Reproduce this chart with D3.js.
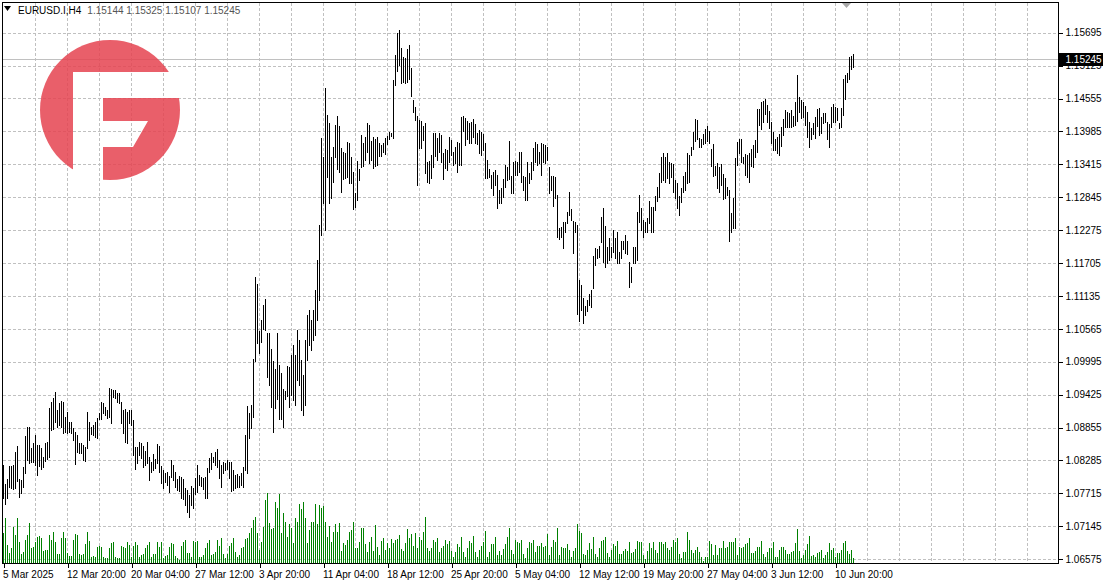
<!DOCTYPE html>
<html><head><meta charset="utf-8">
<script src="https://cdn.jsdelivr.net/npm/d3@7"></script>
<style>
body{margin:0;background:#fff;}
svg{display:block;font-family:"Liberation Sans",Arial,sans-serif;}
</style>
</head><body>
<svg id="chart" width="1106" height="588"></svg>
<script>
const symbol = "EURUSD.I,H4";
const lastOHLC = [1.15144, 1.15325, 1.15107, 1.15245];
const lastPrice = 1.15245;

const highs = [
1.0821,1.0788,1.0796,1.0819,1.0819,1.0821,1.0843,1.0853,1.0796,1.0795,
1.0817,1.0871,1.0886,1.0886,1.0850,1.0859,1.0873,1.0855,1.0855,1.0850,
1.0834,1.0859,1.0860,1.0919,1.0930,1.0937,1.0947,1.0916,1.0928,1.0932,
1.0930,1.0904,1.0912,1.0895,1.0895,1.0885,1.0878,1.0873,1.0859,1.0859,
1.0855,1.0852,1.0912,1.0895,1.0886,1.0890,1.0895,1.0902,1.0911,1.0930,
1.0928,1.0921,1.0916,1.0954,1.0952,1.0950,1.0950,1.0945,1.0945,1.0930,
1.0916,1.0918,1.0912,1.0916,1.0916,1.0899,1.0852,1.0852,1.0860,1.0859,
1.0853,1.0845,1.0860,1.0834,1.0826,1.0840,1.0831,1.0857,1.0853,1.0819,
1.0812,1.0807,1.0808,1.0801,1.0829,1.0821,1.0808,1.0796,1.0801,1.0800,
1.0796,1.0781,1.0777,1.0769,1.0784,1.0781,1.0798,1.0821,1.0803,1.0800,
1.0798,1.0800,1.0815,1.0833,1.0841,1.0834,1.0843,1.0848,1.0829,1.0821,
1.0826,1.0824,1.0829,1.0826,1.0826,1.0812,1.0803,1.0805,1.0801,1.0807,
1.0817,1.0873,1.0923,1.0911,1.0925,1.1004,1.1146,1.1134,1.1053,1.1072,
1.1098,1.1108,1.1049,1.1049,1.1021,1.1001,1.0987,1.1049,1.0994,1.0980,
1.0952,1.0949,1.0992,1.0990,1.1011,1.1028,1.1011,1.1054,1.1037,1.1002,
1.0977,1.1037,1.1080,1.1089,1.1072,1.1089,1.1124,1.1176,1.1236,1.1387,
1.1354,1.1474,1.1427,1.1413,1.1354,1.1372,1.1410,1.1425,1.1408,1.1370,
1.1363,1.1361,1.1380,1.1378,1.1354,1.1328,1.1292,1.1347,1.1333,1.1392,
1.1378,1.1388,1.1413,1.1410,1.1382,1.1388,1.1385,1.1388,1.1378,1.1375,
1.1378,1.1387,1.1390,1.1397,1.1396,1.1488,1.1530,1.1569,1.1574,1.1543,
1.1527,1.1525,1.1541,1.1548,1.1508,1.1453,1.1441,1.1425,1.1418,1.1416,
1.1408,1.1413,1.1345,1.1347,1.1358,1.1396,1.1396,1.1387,1.1396,1.1392,
1.1361,1.1368,1.1366,1.1388,1.1384,1.1363,1.1372,1.1380,1.1378,1.1423,
1.1425,1.1421,1.1417,1.1413,1.1415,1.1420,1.1411,1.1396,1.1401,1.1397,
1.1394,1.1378,1.1349,1.1333,1.1323,1.1328,1.1332,1.1323,1.1297,1.1300,
1.1316,1.1340,1.1337,1.1382,1.1321,1.1345,1.1347,1.1345,1.1363,1.1363,
1.1321,1.1320,1.1345,1.1326,1.1345,1.1370,1.1380,1.1377,1.1363,1.1378,
1.1377,1.1375,1.1372,1.1337,1.1321,1.1321,1.1320,1.1289,1.1231,1.1233,
1.1242,1.1242,1.1259,1.1294,1.1264,1.1243,1.1242,1.1236,1.1141,1.1133,
1.1110,1.1096,1.1106,1.1117,1.1124,1.1183,1.1197,1.1195,1.1200,1.1250,
1.1266,1.1235,1.1198,1.1214,1.1198,1.1228,1.1214,1.1224,1.1190,1.1209,
1.1209,1.1219,1.1209,1.1172,1.1164,1.1198,1.1198,1.1259,1.1289,1.1266,
1.1245,1.1242,1.1248,1.1278,1.1267,1.1267,1.1287,1.1302,1.1326,1.1354,
1.1361,1.1354,1.1361,1.1345,1.1344,1.1342,1.1314,1.1309,1.1287,1.1300,
1.1321,1.1328,1.1361,1.1358,1.1372,1.1397,1.1420,1.1418,1.1387,1.1385,
1.1394,1.1403,1.1408,1.1399,1.1368,1.1377,1.1339,1.1344,1.1337,1.1342,
1.1325,1.1318,1.1302,1.1297,1.1257,1.1283,1.1352,1.1380,1.1385,1.1385,
1.1354,1.1359,1.1358,1.1361,1.1368,1.1375,1.1384,1.1437,1.1437,1.1449,
1.1451,1.1454,1.1444,1.1434,1.1415,1.1397,1.1385,1.1388,1.1394,1.1406,
1.1420,1.1436,1.1432,1.1430,1.1436,1.1425,1.1449,1.1496,1.1458,1.1453,
1.1449,1.1442,1.1432,1.1415,1.1404,1.1413,1.1423,1.1437,1.1439,1.1423,
1.1430,1.1430,1.1415,1.1411,1.1441,1.1446,1.1441,1.1439,1.1413,1.1439,
1.1489,1.1496,1.1500,1.1527,1.1529,1.15325
];

const lows = [
1.0763,1.0753,1.0763,1.0782,1.0781,1.0779,1.0781,1.0793,1.0765,1.0772,
1.0782,1.0807,1.0829,1.0824,1.0826,1.0826,1.0821,1.0803,1.0819,1.0814,
1.0817,1.0828,1.0831,1.0834,1.0881,1.0883,1.0895,1.0886,1.0890,1.0886,
1.0876,1.0878,1.0876,1.0878,1.0876,1.0864,1.0822,1.0843,1.0841,1.0841,
1.0829,1.0828,1.0850,1.0864,1.0874,1.0873,1.0869,1.0867,1.0900,1.0900,
1.0911,1.0907,1.0902,1.0904,1.0893,1.0938,1.0937,1.0930,1.0928,1.0893,
1.0876,1.0860,1.0859,1.0893,1.0890,1.0838,1.0814,1.0824,1.0838,1.0833,
1.0817,1.0821,1.0824,1.0795,1.0808,1.0812,1.0815,1.0824,1.0808,1.0789,
1.0781,1.0791,1.0786,1.0774,1.0800,1.0795,1.0782,1.0777,1.0776,1.0763,
1.0762,1.0751,1.0739,1.0731,1.0751,1.0746,1.0770,1.0774,1.0786,1.0784,
1.0779,1.0763,1.0763,1.0808,1.0814,1.0826,1.0821,1.0817,1.0798,1.0782,
1.0807,1.0812,1.0814,1.0798,1.0776,1.0777,1.0781,1.0782,1.0782,1.0786,
1.0782,1.0812,1.0807,1.0867,1.0885,1.0904,1.1001,1.1032,1.1015,1.1034,
1.1056,1.1054,1.0973,1.0959,1.0921,1.0878,1.0919,1.0935,1.0900,1.0900,
1.0886,1.0935,1.0940,1.0921,1.0942,1.0933,1.0925,1.0968,1.0959,1.0916,
1.0907,1.0925,1.1002,1.1028,1.1020,1.1037,1.1046,1.1072,1.1106,1.1219,
1.1274,1.1228,1.1319,1.1274,1.1283,1.1311,1.1354,1.1333,1.1328,1.1294,
1.1316,1.1318,1.1319,1.1309,1.1309,1.1264,1.1267,1.1280,1.1314,1.1337,
1.1339,1.1349,1.1363,1.1344,1.1349,1.1335,1.1339,1.1340,1.1356,1.1356,
1.1363,1.1359,1.1377,1.1385,1.1390,1.1387,1.1479,1.1503,1.1514,1.1483,
1.1484,1.1483,1.1484,1.1489,1.1460,1.1432,1.1418,1.1306,1.1370,1.1370,
1.1384,1.1326,1.1311,1.1309,1.1318,1.1337,1.1356,1.1349,1.1363,1.1345,
1.1316,1.1335,1.1332,1.1345,1.1358,1.1340,1.1344,1.1328,1.1340,1.1340,
1.1399,1.1375,1.1385,1.1378,1.1378,1.1388,1.1378,1.1377,1.1361,1.1358,
1.1366,1.1318,1.1318,1.1320,1.1300,1.1289,1.1306,1.1266,1.1274,1.1274,
1.1285,1.1302,1.1314,1.1316,1.1292,1.1292,1.1323,1.1323,1.1328,1.1311,
1.1297,1.1280,1.1280,1.1309,1.1316,1.1332,1.1345,1.1340,1.1344,1.1323,
1.1345,1.1344,1.1349,1.1292,1.1297,1.1269,1.1283,1.1216,1.1212,1.1216,
1.1197,1.1225,1.1240,1.1254,1.1245,1.1188,1.1224,1.1082,1.1070,1.1089,
1.1067,1.1080,1.1087,1.1098,1.1094,1.1127,1.1167,1.1179,1.1181,1.1207,
1.1172,1.1164,1.1171,1.1176,1.1181,1.1190,1.1179,1.1171,1.1171,1.1179,
1.1195,1.1188,1.1186,1.1129,1.1138,1.1171,1.1171,1.1176,1.1242,1.1228,
1.1216,1.1224,1.1225,1.1240,1.1224,1.1225,1.1262,1.1278,1.1285,1.1311,
1.1314,1.1311,1.1318,1.1309,1.1320,1.1294,1.1283,1.1266,1.1254,1.1276,
1.1294,1.1297,1.1309,1.1311,1.1358,1.1368,1.1382,1.1385,1.1372,1.1372,
1.1377,1.1378,1.1382,1.1378,1.1339,1.1321,1.1323,1.1300,1.1294,1.1306,
1.1281,1.1283,1.1289,1.1209,1.1224,1.1231,1.1231,1.1340,1.1361,1.1345,
1.1344,1.1323,1.1320,1.1311,1.1339,1.1337,1.1354,1.1363,1.1410,1.1403,
1.1415,1.1428,1.1415,1.1404,1.1378,1.1366,1.1366,1.1361,1.1358,1.1373,
1.1392,1.1406,1.1406,1.1406,1.1406,1.1408,1.1410,1.1417,1.1432,1.1421,
1.1423,1.1410,1.1388,1.1372,1.1385,1.1394,1.1387,1.1408,1.1392,1.1396,
1.1413,1.1415,1.1385,1.1372,1.1406,1.1415,1.1415,1.1418,1.1404,1.1406,
1.1427,1.1454,1.1484,1.1489,1.1507,1.15107
];

const volumes = [
8900,13400,5400,2900,4400,10900,8400,13600,6200,2600,
3200,6900,8400,11900,4600,4900,6400,7900,8200,7400,
3700,3900,3900,8400,6900,9400,6400,2600,2600,7600,
9400,7400,2900,2200,2200,6900,8700,8400,2800,2400,
2600,5600,9200,6600,1900,2200,1900,4900,5200,4800,
1900,1400,1400,4600,5900,6400,1900,1400,1400,5200,
4900,4600,6200,5400,1900,5200,6200,5400,1800,2400,
2600,4400,5400,6200,1900,2600,2600,6400,4900,6200,
1600,2200,2400,4900,5900,5600,2200,1600,900,5200,
6400,6900,2900,2900,1900,6600,6400,6600,1900,1900,
2400,4600,5900,6900,2400,2600,3400,6900,5200,7600,
2600,1400,2600,5200,5900,7600,3200,1900,2400,4600,
4900,7200,7600,8900,10600,12900,13900,8900,3900,6400,
10900,18900,20900,11900,10200,10600,18200,16400,20600,8900,
14900,12200,7900,11600,10600,5900,13600,12400,17600,16200,
18400,13600,5900,9900,12400,12200,17600,11600,17400,16600,
17200,12400,7900,11200,6400,9400,11600,9200,11900,3600,
5900,5400,6900,9400,9900,12400,4600,4400,6400,10600,
10400,5600,3200,6200,7900,3600,11400,4900,2400,6600,
7600,3900,5900,4600,7200,5900,6900,7200,8400,4200,
3600,5900,10200,7600,8600,5200,8900,4400,7900,6900,
9400,13900,4400,3600,4400,6900,6200,7600,3400,4400,
5200,6900,5600,6600,3600,1700,3200,5600,4900,7900,
3200,1900,4400,6600,5900,8200,3200,1900,3900,5200,
6200,9700,1900,3200,5600,5600,7900,2400,3600,2400,
4200,5600,7900,10400,3900,2600,6900,6200,5900,6900,
2600,1600,4400,6200,5900,6900,3400,5200,5200,5900,
4900,5200,8600,2400,4900,6900,6200,10400,2400,4900,
4600,4600,5600,3900,1900,3600,4600,11600,9600,8900,
2600,2400,3900,5900,4200,7900,2600,1900,4400,6600,
6900,7900,2900,1900,3900,5600,5200,6600,2600,2600,
3600,4200,3600,6400,2900,3400,4200,6600,6400,6400,
2400,1200,3600,5900,4400,6200,3900,2900,6200,6200,
5600,6200,4600,3900,4900,6900,6200,7400,2600,1600,
3400,3400,9400,6900,3900,2900,3900,4900,3200,1900,
600,1900,1900,6600,5600,2400,5400,2400,4600,4600,
6600,4400,4900,6200,6200,6400,7600,2400,4900,4600,
4900,5600,5900,7600,2900,2900,3600,4900,4900,6600,
2600,1900,3400,4600,4600,6200,1900,1900,3900,4900,
4900,3900,2600,2600,3400,3600,5900,10200,3600,1400,
2400,3900,5600,8200,2200,2400,1900,2900,3200,3900,
1600,2400,3200,5900,3900,4600,1900,2900,2900,3900,
5900,6600,3600,2600,3900,1600
];

const priceTicks = [1.15695,1.15125,1.14555,1.13985,1.13415,1.12845,1.12275,1.11705,
  1.11135,1.10565,1.09995,1.09425,1.08855,1.08285,1.07715,1.07145,1.06575];
const dateLabels = ["5 Mar 2025","12 Mar 20:00","20 Mar 04:00","27 Mar 12:00","3 Apr 20:00",
  "11 Apr 04:00","18 Apr 12:00","25 Apr 20:00","5 May 04:00","12 May 12:00","19 May 20:00",
  "27 May 04:00","3 Jun 12:00","10 Jun 20:00"];
const dateLabelBars = [0,32,64,96,128,160,192,224,256,288,320,352,384,416];

const svg = d3.select("#chart");
const L = 2.5, T = 2.5, R = 1058.5, B = 563.5;

const x = d3.scaleLinear().domain([0, 425]).range([3, 853]);
const y = d3.scaleLinear().domain([1.06575, 1.15695]).range([559.1, 32.7]);
const vy = d3.scaleLinear().domain([0, 21000]).range([563, 493]);

const snap = v => Math.round(v) + 0.5;

// grid
const grid = svg.append("g").attr("stroke", "#c0c0c0").attr("stroke-dasharray", "3,2")
  .attr("shape-rendering", "crispEdges");
grid.selectAll("line.h").data(priceTicks).join("line").attr("class","h")
  .attr("x1", 3).attr("x2", R).attr("y1", d => snap(y(d))).attr("y2", d => snap(y(d)));
const vGrid = d3.range(16, 520, 16).filter(i => x(i) < 1056);
grid.selectAll("line.v").data(vGrid).join("line").attr("class","v")
  .attr("y1", 3).attr("y2", B).attr("x1", d => x(d) + 0.5).attr("x2", d => x(d) + 0.5);

// current price line
svg.append("line").attr("x1", 3).attr("x2", R)
  .attr("y1", snap(y(lastPrice))).attr("y2", snap(y(lastPrice)))
  .attr("stroke", "#c0c0c0").attr("shape-rendering", "crispEdges");

// logo
const defs = svg.append("defs");
defs.append("clipPath").attr("id", "logoClip").append("circle")
  .attr("cx", 110).attr("cy", 110).attr("r", 70);
const logo = svg.append("g").attr("clip-path", "url(#logoClip)")
  .attr("fill", "rgb(230,68,80)").attr("opacity", 0.85);
logo.append("path").attr("d", "M30,30 H190 V72 H73 V190 H30 Z");
logo.append("path").attr("d", "M103,98 H190 V190 H103 V147 H133 L148,121 H103 Z");

// volumes
svg.append("g").attr("stroke", "#008000").attr("shape-rendering", "crispEdges")
  .selectAll("line").data(volumes).join("line")
  .attr("x1", (d, i) => x(i) + 0.5).attr("x2", (d, i) => x(i) + 0.5)
  .attr("y1", vy(0)).attr("y2", d => vy(d));

// price bars
svg.append("g").attr("stroke", "#000").attr("shape-rendering", "crispEdges")
  .selectAll("line").data(highs).join("line")
  .attr("x1", (d, i) => x(i) + 0.5).attr("x2", (d, i) => x(i) + 0.5)
  .attr("y1", d => Math.round(y(d))).attr("y2", (d, i) => Math.round(y(lows[i])) + 1);

// frame
svg.append("rect").attr("x", L).attr("y", T).attr("width", R - L).attr("height", B - T)
  .attr("fill", "none").attr("stroke", "#000").attr("shape-rendering", "crispEdges");

// price axis
const ya = svg.append("g").attr("transform", `translate(${R},0)`)
  .call(d3.axisRight(y).tickValues(priceTicks).tickSize(4).tickPadding(3)
    .tickFormat(d3.format(".5f")));
ya.select(".domain").remove();
ya.selectAll("text").attr("font-size", 10).attr("font-family", "Liberation Sans, Arial").attr("fill","#000");
ya.selectAll(".tick line").attr("stroke","#000").attr("shape-rendering","crispEdges");

// date axis
const xa = svg.append("g").attr("transform", `translate(0.5,${B})`)
  .call(d3.axisBottom(x).tickValues(dateLabelBars).tickSize(4).tickPadding(3)
    .tickFormat((d, i) => dateLabels[i]));
xa.select(".domain").remove();
xa.selectAll("text").attr("font-size", 10).attr("text-anchor", "start").attr("dx", -1)
  .attr("font-family", "Liberation Sans, Arial").attr("fill","#000");
xa.selectAll(".tick line").attr("stroke","#000").attr("shape-rendering","crispEdges");

// current price tag
const yp = y(lastPrice);
svg.append("rect").attr("x", 1059).attr("y", Math.round(yp) - 6).attr("width", 44).attr("height", 13)
  .attr("fill", "#000");
svg.append("text").attr("x", 1065.5).attr("y", yp + 4).attr("fill", "#fff")
  .attr("font-size", 10).text(d3.format(".5f")(lastPrice));

// header
svg.append("path").attr("d", "M4,6 H11 L7.5,11 Z").attr("fill", "#000");
const head = svg.append("text").attr("x", 18).attr("y", 14).attr("font-size", 10);
head.append("tspan").attr("fill", "#000").text(symbol);
head.append("tspan").attr("fill", "#555").attr("dx", 6).text(lastOHLC.map(d3.format(".5f")).join(" "));

// chart shift marker
svg.append("path").attr("d", "M842,3 H851 L846.5,8 Z").attr("fill", "#a8a8a8");
</script>
</body></html>
